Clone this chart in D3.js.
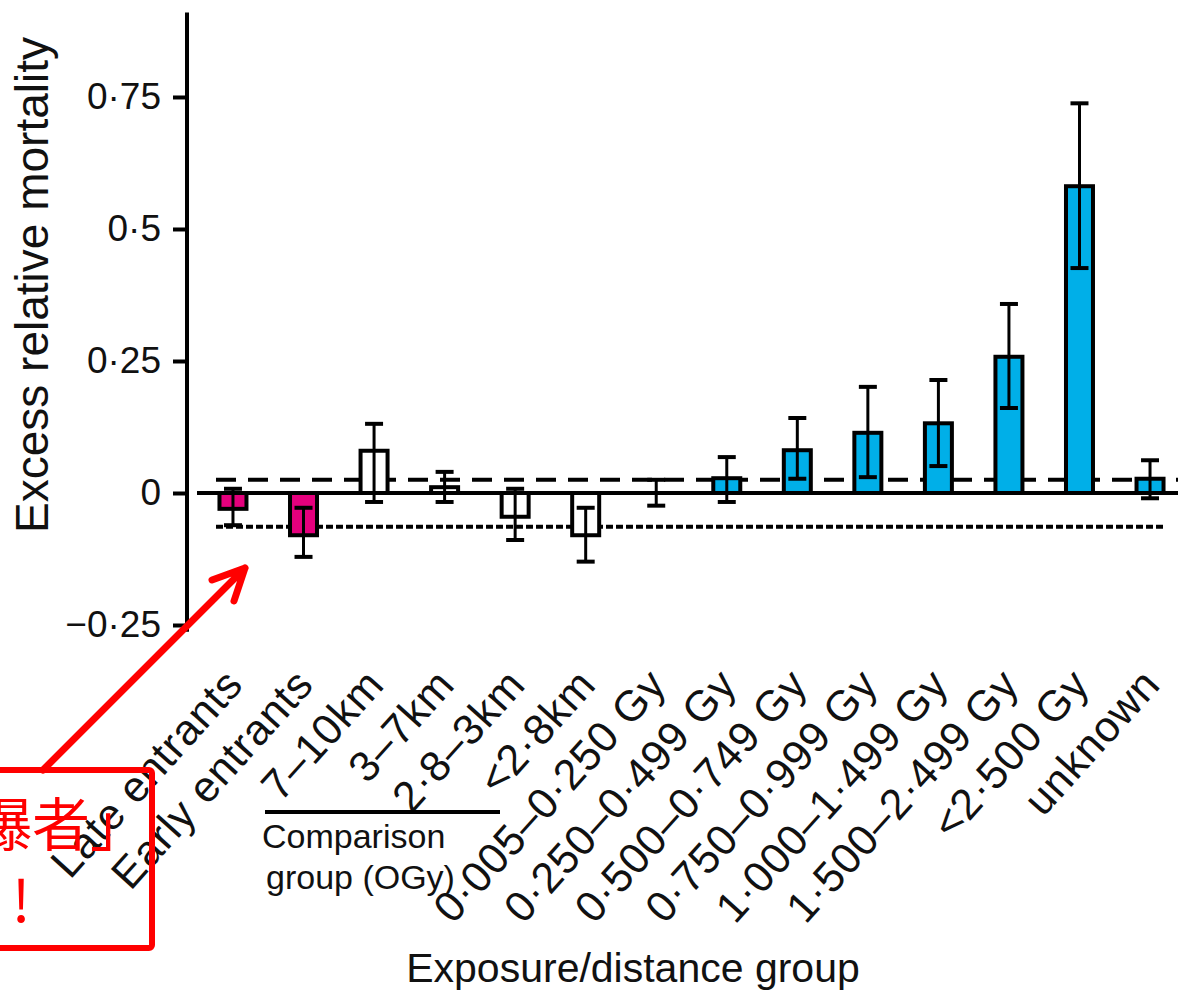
<!DOCTYPE html>
<html>
<head>
<meta charset="utf-8">
<script src="https://cdn.jsdelivr.net/npm/d3@7"></script>
<style>
  body { margin: 0; background: #fff; }
  svg { display: block; }
</style>
</head>
<body>
<div id="chart"></div>
<script>
// Data
var categories = ['Late entrants', 'Early entrants', '7–10km', '3–7km', '2·8–3km', '<2·8km',
  '0·005–0·250 Gy', '0·250–0·499 Gy', '0·500–0·749 Gy', '0·750–0·999 Gy',
  '1·000–1·499 Gy', '1·500–2·499 Gy', '<2·500 Gy', 'unknown'];
var groups = ['entrant', 'entrant', 'distance', 'distance', 'distance', 'distance',
  'dose', 'dose', 'dose', 'dose', 'dose', 'dose', 'dose', 'dose'];
var values = [-0.030, -0.080, 0.080, 0.011, -0.045, -0.080, 0.000, 0.028, 0.081, 0.114, 0.132, 0.258, 0.581, 0.027];
var lower = [-0.061, -0.121, -0.017, -0.017, -0.089, -0.130, -0.024, -0.017, 0.027, 0.030, 0.051, 0.161, 0.426, -0.010];
var upper = [0.008, -0.028, 0.131, 0.040, 0.008, -0.028, 0.025, 0.068, 0.142, 0.201, 0.214, 0.358, 0.738, 0.062];
var tickValues = [-0.25, 0, 0.25, 0.5, 0.75];
var tickLabels = ['−0·25', '0', '0·25', '0·5', '0·75'];
var upperRef = 0.025, lowerRef = -0.064;

var width = 1178, height = 993;

var svg = d3.select('#chart')
  .append('svg')
  .attr('width', width)
  .attr('height', height);

// Scales

var xScale = d3.scaleBand()
  .domain(categories)
  .range([197.7, 1185.3])
  .paddingInner(0.575)
  .paddingOuter(0.2875);

var yScale = d3.scaleLinear()
  .domain([-0.25, 0.91])
  .range([625, 12.5]);

var colors = { entrant: '#E5007D', distance: '#ffffff', dose: '#00AFE8' };
var bw = 27;

// Y axis

var yAxis = svg.append('g')
  .attr('transform', 'translate(187,0)')
  .call(d3.axisLeft(yScale)
    .tickValues(tickValues)
    .tickSize(14)
    .tickPadding(12)
    .tickFormat(function(d, i) { return tickLabels[i]; }));

yAxis.select('.domain').remove();
yAxis.selectAll('.tick line').attr('stroke', '#000').attr('stroke-width', 4);
yAxis.selectAll('.tick text')
  .attr('fill', '#111')
  .style('font-family', '"Liberation Sans", Arial, sans-serif')
  .style('font-size', '37px');

svg.append('line')
  .attr('x1', 187).attr('x2', 187)
  .attr('y1', yScale(0.91)).attr('y2', yScale(-0.263))
  .attr('stroke', '#000').attr('stroke-width', 4);

// Reference lines

svg.append('line')
  .attr('x1', 216).attr('x2', width)
  .attr('y1', yScale(upperRef)).attr('y2', yScale(upperRef))
  .attr('stroke', '#000').attr('stroke-width', 4)
  .attr('stroke-dasharray', '20,12');

svg.append('line')
  .attr('x1', 216).attr('x2', 1166)
  .attr('y1', yScale(lowerRef)).attr('y2', yScale(lowerRef))
  .attr('stroke', '#000').attr('stroke-width', 4)
  .attr('stroke-dasharray', '7,3');

// Bars

var rows = categories.map(function(c, i) {
  return { cat: c, group: groups[i], v: values[i], lo: lower[i], hi: upper[i] };
});

svg.selectAll('rect.bar')
  .data(rows)
  .enter()
  .append('rect')
  .attr('class', 'bar')
  .attr('x', function(d) { return xScale(d.cat) + xScale.bandwidth() / 2 - bw / 2; })
  .attr('y', function(d) { return yScale(Math.max(0, d.v)); })
  .attr('width', bw)
  .attr('height', function(d) { return Math.abs(yScale(d.v) - yScale(0)); })
  .attr('fill', function(d) { return colors[d.group]; })
  .attr('stroke', '#000')
  .attr('stroke-width', 4);

// Zero line

svg.append('line')
  .attr('x1', 197).attr('x2', width)
  .attr('y1', yScale(0)).attr('y2', yScale(0))
  .attr('stroke', '#000').attr('stroke-width', 4);

// Error bars

var err = svg.selectAll('g.err')
  .data(rows)
  .enter()
  .append('g')
  .attr('class', 'err')
  .attr('transform', function(d) { return 'translate(' + (xScale(d.cat) + xScale.bandwidth() / 2) + ',0)'; });

err.append('line')
  .attr('y1', function(d) { return yScale(d.lo); })
  .attr('y2', function(d) { return yScale(d.hi); })
  .attr('stroke', '#000').attr('stroke-width', 3);

err.selectAll('line.cap')
  .data(function(d) { return [d.lo, d.hi]; })
  .enter()
  .append('line')
  .attr('class', 'cap')
  .attr('x1', -9).attr('x2', 9)
  .attr('y1', function(d) { return yScale(d); })
  .attr('y2', function(d) { return yScale(d); })
  .attr('stroke', '#000').attr('stroke-width', 4);

// X labels (rotated)

svg.selectAll('text.xlab')
  .data(categories)
  .enter()
  .append('text')
  .attr('class', 'xlab')
  .attr('transform', function(d) {
    return 'translate(' + (xScale(d) + xScale.bandwidth() / 2 + 12) + ',686) rotate(-48)';
  })
  .attr('text-anchor', 'end')
  .attr('fill', '#111')
  .style('font-family', '"Liberation Sans", Arial, sans-serif')
  .style('font-size', '43px')
  .style('letter-spacing', '0.8px')
  .text(function(d) { return d; });

// Comparison group bracket

svg.append('line')
  .attr('x1', 265).attr('x2', 500)
  .attr('y1', 812).attr('y2', 812)
  .attr('stroke', '#000').attr('stroke-width', 4);

var comp = svg.append('text')
  .attr('fill', '#111')
  .style('font-family', '"Liberation Sans", Arial, sans-serif')
  .style('font-size', '34px');
comp.append('tspan').attr('x', 262).attr('y', 848).text('Comparison');
comp.append('tspan').attr('x', 266).attr('y', 889).text('group (OGy)');

// Axis titles

svg.append('text')
  .attr('transform', 'translate(48,285) rotate(-90)')
  .attr('text-anchor', 'middle')
  .attr('fill', '#111')
  .style('font-family', '"Liberation Sans", Arial, sans-serif')
  .style('font-size', '46px')
  .text('Excess relative mortality');

svg.append('text')
  .attr('x', 633).attr('y', 982)
  .attr('text-anchor', 'middle')
  .attr('fill', '#111')
  .style('font-family', '"Liberation Sans", Arial, sans-serif')
  .style('font-size', '41px')
  .text('Exposure/distance group');

// Red annotation

var red = '#FF0000';
svg.append('rect')
  .attr('x', -110).attr('y', 770)
  .attr('width', 262).attr('height', 178)
  .attr('rx', 3)
  .attr('fill', 'none')
  .attr('stroke', red).attr('stroke-width', 6);

svg.append('text')
  .attr('x', 148).attr('y', 846)
  .attr('text-anchor', 'end')
  .attr('fill', red)
  .style('font-family', '"Noto Sans CJK JP", sans-serif')
  .style('font-size', '58px')
  .text('被爆者」');

svg.append('text')
  .attr('x', 21).attr('y', 922)
  .attr('text-anchor', 'middle')
  .attr('fill', red)
  .style('font-family', '"Noto Sans CJK JP", sans-serif')
  .style('font-size', '58px')
  .text('!');

svg.append('path')
  .attr('d', 'M43,770 L245,568 M212,580 L245,568 L234,601')
  .attr('fill', 'none')
  .attr('stroke', red).attr('stroke-width', 7)
  .attr('stroke-linecap', 'round')
  .attr('stroke-linejoin', 'round');
</script>
</body>
</html>
